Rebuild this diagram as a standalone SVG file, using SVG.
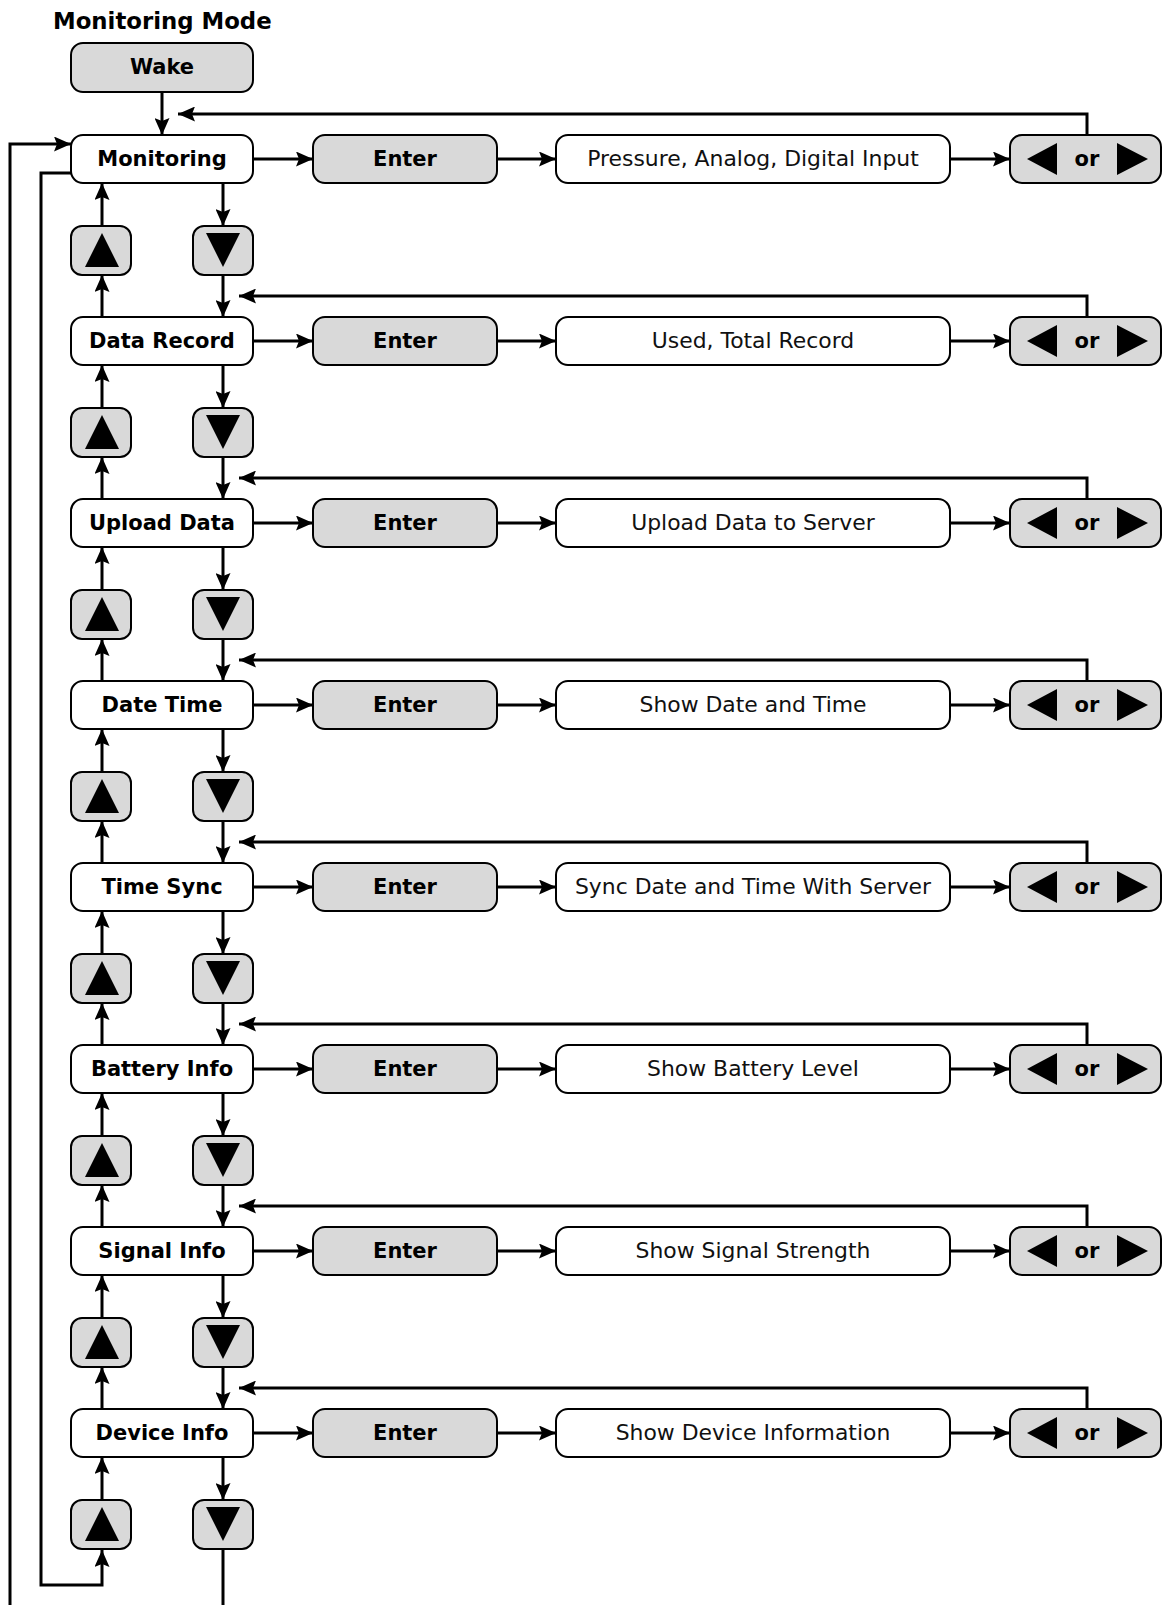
<svg xmlns="http://www.w3.org/2000/svg" width="1163" height="1605" viewBox="0 0 1163 1605">
<style>
.n{fill:#fff;stroke:#000;stroke-width:2}
.g{fill:#d9d9d9;stroke:#000;stroke-width:2}
.b{font-family:"DejaVu Sans",Verdana,sans-serif;font-weight:bold;font-size:21px;text-anchor:middle;fill:#000}
.t{font-family:"DejaVu Sans",Verdana,sans-serif;font-size:21.9px;text-anchor:middle;fill:#111}
.c{fill:none;stroke:#000;stroke-width:3}
.a{marker-end:url(#ah)}
</style>
<defs>
<marker id="ah" markerUnits="userSpaceOnUse" markerWidth="17" markerHeight="15" refX="17" refY="7.5" orient="auto"><path d="M0,0 L17,7.5 L0,15 L3,7.5 z" fill="#000"/></marker>
</defs>
<text x="53" y="29" font-family="DejaVu Sans,Verdana,sans-serif" font-weight="bold" font-size="22.8px">Monitoring Mode</text>
<g id="wake"><rect x="71" y="43" width="182" height="49" rx="12" class="g"/><text x="162" y="74" class="b">Wake</text></g>

<g id="connectors">
<path class="c a" d="M162,92 V135"/>
<path class="c a" d="M10,1605 V144 H71"/>
<path class="c a" d="M71,173 H41 V1585 H102 V1550"/>
<path class="c" d="M223,1550 V1605"/>
<path class="c a" d="M253,159 H313"/><path class="c a" d="M497,159 H556"/><path class="c a" d="M950,159 H1010"/><path class="c a" d="M1087,135 V114 H178"/>
<path class="c a" d="M223,183 V226"/><path class="c a" d="M102,226 V183"/><path class="c a" d="M223,275 V317"/><path class="c a" d="M102,317 V275"/>

<path class="c a" d="M253,341 H313"/><path class="c a" d="M497,341 H556"/><path class="c a" d="M950,341 H1010"/><path class="c a" d="M1087,317 V296 H239"/>
<path class="c a" d="M223,365 V408"/><path class="c a" d="M102,408 V365"/><path class="c a" d="M223,457 V499"/><path class="c a" d="M102,499 V457"/>

<path class="c a" d="M253,523 H313"/><path class="c a" d="M497,523 H556"/><path class="c a" d="M950,523 H1010"/><path class="c a" d="M1087,499 V478 H239"/>
<path class="c a" d="M223,547 V590"/><path class="c a" d="M102,590 V547"/><path class="c a" d="M223,639 V681"/><path class="c a" d="M102,681 V639"/>

<path class="c a" d="M253,705 H313"/><path class="c a" d="M497,705 H556"/><path class="c a" d="M950,705 H1010"/><path class="c a" d="M1087,681 V660 H239"/>
<path class="c a" d="M223,729 V772"/><path class="c a" d="M102,772 V729"/><path class="c a" d="M223,821 V863"/><path class="c a" d="M102,863 V821"/>

<path class="c a" d="M253,887 H313"/><path class="c a" d="M497,887 H556"/><path class="c a" d="M950,887 H1010"/><path class="c a" d="M1087,863 V842 H239"/>
<path class="c a" d="M223,911 V954"/><path class="c a" d="M102,954 V911"/><path class="c a" d="M223,1003 V1045"/><path class="c a" d="M102,1045 V1003"/>

<path class="c a" d="M253,1069 H313"/><path class="c a" d="M497,1069 H556"/><path class="c a" d="M950,1069 H1010"/><path class="c a" d="M1087,1045 V1024 H239"/>
<path class="c a" d="M223,1093 V1136"/><path class="c a" d="M102,1136 V1093"/><path class="c a" d="M223,1185 V1227"/><path class="c a" d="M102,1227 V1185"/>

<path class="c a" d="M253,1251 H313"/><path class="c a" d="M497,1251 H556"/><path class="c a" d="M950,1251 H1010"/><path class="c a" d="M1087,1227 V1206 H239"/>
<path class="c a" d="M223,1275 V1318"/><path class="c a" d="M102,1318 V1275"/><path class="c a" d="M223,1367 V1409"/><path class="c a" d="M102,1409 V1367"/>

<path class="c a" d="M253,1433 H313"/><path class="c a" d="M497,1433 H556"/><path class="c a" d="M950,1433 H1010"/><path class="c a" d="M1087,1409 V1388 H239"/>
<path class="c a" d="M223,1457 V1500"/><path class="c a" d="M102,1500 V1457"/>
</g>

<g id="row0" transform="translate(0,159)">
<rect x="71" y="-24" width="182" height="48" rx="12" class="n"/><text x="162" y="7" class="b">Monitoring</text>
<rect x="313" y="-24" width="184" height="48" rx="12" class="g"/><text x="405" y="7" class="b">Enter</text>
<rect x="556" y="-24" width="394" height="48" rx="12" class="n"/><text x="753" y="7" class="t">Pressure, Analog, Digital Input</text>
<rect x="1010" y="-24" width="151" height="48" rx="12" class="g"/><path d="M1027,0 L1057,-16 V16 z M1148,0 L1117,-16 V16 z"/><text x="1087" y="7" class="b">or</text>
<rect x="71" y="67" width="60" height="49" rx="11" class="g"/><path d="M102,74 L119,108 H85 z"/>
<rect x="193" y="67" width="60" height="49" rx="11" class="g"/><path d="M223,108 L240,74 H206 z"/>
</g>
<g id="row1" transform="translate(0,341)">
<rect x="71" y="-24" width="182" height="48" rx="12" class="n"/><text x="162" y="7" class="b">Data Record</text>
<rect x="313" y="-24" width="184" height="48" rx="12" class="g"/><text x="405" y="7" class="b">Enter</text>
<rect x="556" y="-24" width="394" height="48" rx="12" class="n"/><text x="753" y="7" class="t">Used, Total Record</text>
<rect x="1010" y="-24" width="151" height="48" rx="12" class="g"/><path d="M1027,0 L1057,-16 V16 z M1148,0 L1117,-16 V16 z"/><text x="1087" y="7" class="b">or</text>
<rect x="71" y="67" width="60" height="49" rx="11" class="g"/><path d="M102,74 L119,108 H85 z"/>
<rect x="193" y="67" width="60" height="49" rx="11" class="g"/><path d="M223,108 L240,74 H206 z"/>
</g>
<g id="row2" transform="translate(0,523)">
<rect x="71" y="-24" width="182" height="48" rx="12" class="n"/><text x="162" y="7" class="b">Upload Data</text>
<rect x="313" y="-24" width="184" height="48" rx="12" class="g"/><text x="405" y="7" class="b">Enter</text>
<rect x="556" y="-24" width="394" height="48" rx="12" class="n"/><text x="753" y="7" class="t">Upload Data to Server</text>
<rect x="1010" y="-24" width="151" height="48" rx="12" class="g"/><path d="M1027,0 L1057,-16 V16 z M1148,0 L1117,-16 V16 z"/><text x="1087" y="7" class="b">or</text>
<rect x="71" y="67" width="60" height="49" rx="11" class="g"/><path d="M102,74 L119,108 H85 z"/>
<rect x="193" y="67" width="60" height="49" rx="11" class="g"/><path d="M223,108 L240,74 H206 z"/>
</g>
<g id="row3" transform="translate(0,705)">
<rect x="71" y="-24" width="182" height="48" rx="12" class="n"/><text x="162" y="7" class="b">Date Time</text>
<rect x="313" y="-24" width="184" height="48" rx="12" class="g"/><text x="405" y="7" class="b">Enter</text>
<rect x="556" y="-24" width="394" height="48" rx="12" class="n"/><text x="753" y="7" class="t">Show Date and Time</text>
<rect x="1010" y="-24" width="151" height="48" rx="12" class="g"/><path d="M1027,0 L1057,-16 V16 z M1148,0 L1117,-16 V16 z"/><text x="1087" y="7" class="b">or</text>
<rect x="71" y="67" width="60" height="49" rx="11" class="g"/><path d="M102,74 L119,108 H85 z"/>
<rect x="193" y="67" width="60" height="49" rx="11" class="g"/><path d="M223,108 L240,74 H206 z"/>
</g>
<g id="row4" transform="translate(0,887)">
<rect x="71" y="-24" width="182" height="48" rx="12" class="n"/><text x="162" y="7" class="b">Time Sync</text>
<rect x="313" y="-24" width="184" height="48" rx="12" class="g"/><text x="405" y="7" class="b">Enter</text>
<rect x="556" y="-24" width="394" height="48" rx="12" class="n"/><text x="753" y="7" class="t">Sync Date and Time With Server</text>
<rect x="1010" y="-24" width="151" height="48" rx="12" class="g"/><path d="M1027,0 L1057,-16 V16 z M1148,0 L1117,-16 V16 z"/><text x="1087" y="7" class="b">or</text>
<rect x="71" y="67" width="60" height="49" rx="11" class="g"/><path d="M102,74 L119,108 H85 z"/>
<rect x="193" y="67" width="60" height="49" rx="11" class="g"/><path d="M223,108 L240,74 H206 z"/>
</g>
<g id="row5" transform="translate(0,1069)">
<rect x="71" y="-24" width="182" height="48" rx="12" class="n"/><text x="162" y="7" class="b">Battery Info</text>
<rect x="313" y="-24" width="184" height="48" rx="12" class="g"/><text x="405" y="7" class="b">Enter</text>
<rect x="556" y="-24" width="394" height="48" rx="12" class="n"/><text x="753" y="7" class="t">Show Battery Level</text>
<rect x="1010" y="-24" width="151" height="48" rx="12" class="g"/><path d="M1027,0 L1057,-16 V16 z M1148,0 L1117,-16 V16 z"/><text x="1087" y="7" class="b">or</text>
<rect x="71" y="67" width="60" height="49" rx="11" class="g"/><path d="M102,74 L119,108 H85 z"/>
<rect x="193" y="67" width="60" height="49" rx="11" class="g"/><path d="M223,108 L240,74 H206 z"/>
</g>
<g id="row6" transform="translate(0,1251)">
<rect x="71" y="-24" width="182" height="48" rx="12" class="n"/><text x="162" y="7" class="b">Signal Info</text>
<rect x="313" y="-24" width="184" height="48" rx="12" class="g"/><text x="405" y="7" class="b">Enter</text>
<rect x="556" y="-24" width="394" height="48" rx="12" class="n"/><text x="753" y="7" class="t">Show Signal Strength</text>
<rect x="1010" y="-24" width="151" height="48" rx="12" class="g"/><path d="M1027,0 L1057,-16 V16 z M1148,0 L1117,-16 V16 z"/><text x="1087" y="7" class="b">or</text>
<rect x="71" y="67" width="60" height="49" rx="11" class="g"/><path d="M102,74 L119,108 H85 z"/>
<rect x="193" y="67" width="60" height="49" rx="11" class="g"/><path d="M223,108 L240,74 H206 z"/>
</g>
<g id="row7" transform="translate(0,1433)">
<rect x="71" y="-24" width="182" height="48" rx="12" class="n"/><text x="162" y="7" class="b">Device Info</text>
<rect x="313" y="-24" width="184" height="48" rx="12" class="g"/><text x="405" y="7" class="b">Enter</text>
<rect x="556" y="-24" width="394" height="48" rx="12" class="n"/><text x="753" y="7" class="t">Show Device Information</text>
<rect x="1010" y="-24" width="151" height="48" rx="12" class="g"/><path d="M1027,0 L1057,-16 V16 z M1148,0 L1117,-16 V16 z"/><text x="1087" y="7" class="b">or</text>
<rect x="71" y="67" width="60" height="49" rx="11" class="g"/><path d="M102,74 L119,108 H85 z"/>
<rect x="193" y="67" width="60" height="49" rx="11" class="g"/><path d="M223,108 L240,74 H206 z"/>
</g>
</svg>
